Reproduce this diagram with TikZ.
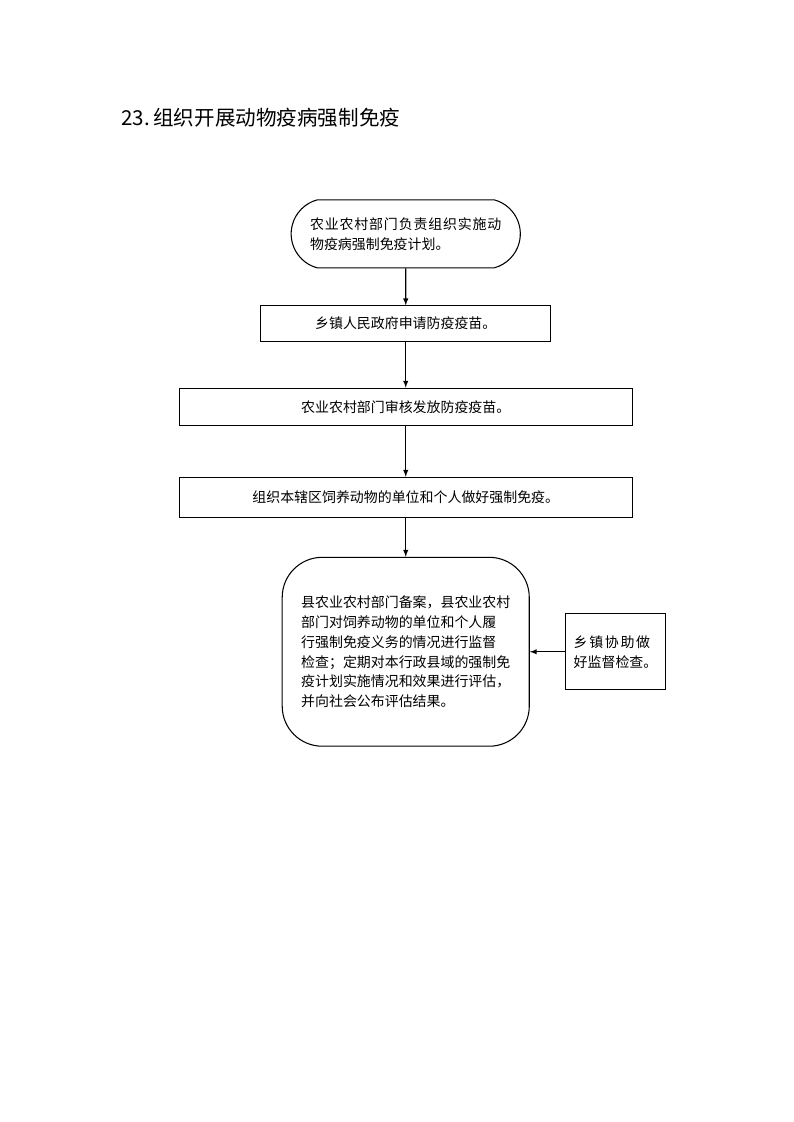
\documentclass[tikz,border=0pt]{standalone}
\usepackage{fontspec}
\setmainfont{Noto Sans CJK SC}
\usetikzlibrary{arrows,positioning,shapes.misc}

\begin{document}
\begin{tikzpicture}[>=latex, line width=0.8pt,
    every node/.style={font=\fontsize{10.5}{15}\selectfont},
    stepbox/.style={draw, rectangle, align=center, inner sep=2pt},
    startbox/.style={draw, rounded rectangle, rounded rectangle arc length=150, align=left},
    roundbox/.style={draw, rectangle, rounded corners=1.06cm, align=left}]
   \useasboundingbox (0,0) rectangle (21,-29.7);
   \node [anchor=west, font=\fontsize{15.5}{18}\selectfont] (title) at (3.08,-3.12) {23.\,组织开展动物疫病强制免疫};
   \node [startbox, minimum width=6.3cm, minimum height=1.8cm] (plan) at (10.74,-6.19)
      {\addfontfeature{LetterSpace=6}农业农村部门负责组织实施动\\物疫病强制免疫计划。};
   \node [stepbox, minimum width=7.68cm, minimum height=0.93cm] (apply) [below=0.98cm of plan] {乡镇人民政府申请防疫疫苗。};
   \node [stepbox, minimum width=12cm, minimum height=0.98cm] (issue) [below=1.22cm of apply] {农业农村部门审核发放防疫疫苗。};
   \node [stepbox, minimum width=12cm, minimum height=1.06cm] (organize) [below=1.35cm of issue] {组织本辖区饲养动物的单位和个人做好强制免疫。};
   \node [roundbox, minimum width=6.54cm, minimum height=5cm] (record) [below=1.03cm of organize]
      {县农业农村部门备案，县农业农村\\部门对饲养动物的单位和个人履\\行强制免疫义务的情况进行监督\\检查；定期对本行政县域的强制免\\疫计划实施情况和效果进行评估，\\并向社会公布评估结果。};
   \node [stepbox, align=left, minimum width=2.65cm, minimum height=2.01cm] (assist) [right=0.93cm of record]
      {\addfontfeature{LetterSpace=12}乡镇协助做\\好监督检查。};
    \path[->]
    (plan) edge (apply)
    (apply) edge (issue)
    (issue) edge (organize)
    (organize) edge (record)
    (assist) edge (record);
\end{tikzpicture}
\end{document}
